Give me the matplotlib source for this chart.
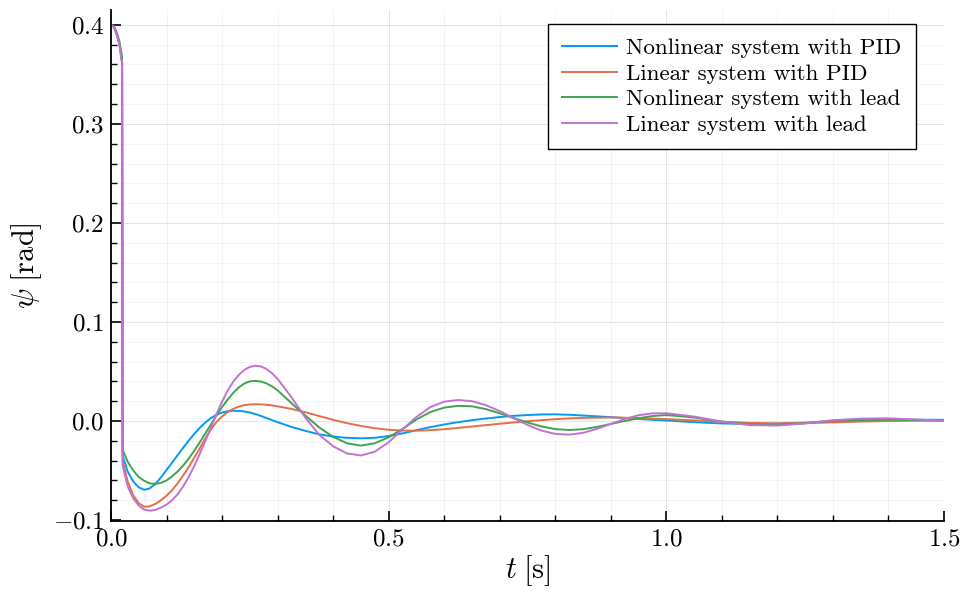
import matplotlib
matplotlib.use("Agg")
import matplotlib.pyplot as plt
from matplotlib.ticker import MultipleLocator, FuncFormatter

# Data
t = [0.0, 0.005, 0.01, 0.015, 0.02, 0.021,
     0.03, 0.04, 0.05, 0.06, 0.07, 0.08, 0.09, 0.10, 0.11, 0.12, 0.13, 0.14, 0.15,
     0.16, 0.17, 0.18, 0.19, 0.20, 0.21, 0.22, 0.23, 0.24, 0.25, 0.26, 0.27, 0.28,
     0.29, 0.30,
     0.325, 0.35, 0.375, 0.40, 0.425, 0.45, 0.475, 0.50, 0.525, 0.55, 0.575, 0.60,
     0.625, 0.65, 0.675, 0.70, 0.725, 0.75, 0.775, 0.80, 0.825, 0.85, 0.875, 0.90,
     0.925, 0.95, 0.975, 1.00,
     1.05, 1.10, 1.15, 1.20, 1.25, 1.30, 1.35, 1.40, 1.45, 1.50]

nonlin_pid = [0.4, 0.398, 0.391, 0.381, 0.362, -0.035,
              -0.051, -0.061, -0.067, -0.0695, -0.068, -0.0635, -0.057, -0.0495, -0.042,
              -0.0345, -0.027, -0.0198, -0.013, -0.0068, -0.0015, 0.003, 0.0063, 0.0085,
              0.0098, 0.0103, 0.0102, 0.0096, 0.0085, 0.007, 0.0051, 0.003, 0.0009, -0.0012,
              -0.006, -0.010, -0.0135, -0.0157, -0.017, -0.0175, -0.017, -0.0152, -0.0125,
              -0.0093, -0.0062, -0.0035, -0.0012, 0.0008, 0.0025, 0.004, 0.0052, 0.006,
              0.0066, 0.0067, 0.0063, 0.0055, 0.0047, 0.0039, 0.003, 0.002, 0.0012, 0.0005,
              -0.0012, -0.0025, -0.003, -0.0027, -0.0017, -0.0002, 0.0008, 0.0013, 0.0013,
              0.0012]

lin_pid = [0.4, 0.398, 0.391, 0.381, 0.362, -0.040,
           -0.061, -0.075, -0.083, -0.0866, -0.0862, -0.0838, -0.080, -0.0755, -0.070,
           -0.063, -0.055, -0.0465, -0.037, -0.0275, -0.0175, -0.0085, -0.001, 0.0045,
           0.009, 0.0122, 0.0145, 0.016, 0.0167, 0.0169, 0.0168, 0.0164, 0.0157, 0.0148,
           0.0122, 0.0088, 0.005, 0.0012, -0.0022, -0.005, -0.0073, -0.0089, -0.0097,
           -0.0098, -0.0093, -0.0083, -0.007, -0.0056, -0.0042, -0.0028, -0.0015, -0.0003,
           0.0008, 0.0018, 0.0026, 0.0031, 0.0034, 0.0035, 0.0033, 0.0029, 0.0024, 0.0019,
           0.0006, -0.0008, -0.0019, -0.0024, -0.0022, -0.0014, -0.0006, 0.0, 0.0003,
           0.0004]

nonlin_lead = [0.4, 0.399, 0.393, 0.384, 0.368, -0.029,
               -0.041, -0.050, -0.0565, -0.0605, -0.063, -0.0636, -0.0625, -0.060, -0.056,
               -0.051, -0.045, -0.038, -0.030, -0.0215, -0.0125, -0.0035, 0.0055, 0.014,
               0.0215, 0.0283, 0.0338, 0.0378, 0.040, 0.0405, 0.0398, 0.038, 0.035, 0.031,
               0.018, 0.0055, -0.0065, -0.016, -0.0225, -0.0249, -0.0225, -0.0165, -0.008,
               0.0015, 0.009, 0.0135, 0.0153, 0.0148, 0.012, 0.0078, 0.003, -0.0015, -0.0055,
               -0.0082, -0.0091, -0.0083, -0.006, -0.003, 0.0, 0.0028, 0.005, 0.006,
               0.0035, -0.0005, -0.0033, -0.0038, -0.0022, 0.0002, 0.0012, 0.0013, 0.0009,
               0.0004]

lin_lead = [0.4, 0.398, 0.391, 0.381, 0.362, -0.045,
            -0.066, -0.078, -0.0855, -0.0895, -0.0906, -0.0898, -0.0875, -0.0845, -0.080,
            -0.074, -0.066, -0.0565, -0.0455, -0.033, -0.020, -0.0065, 0.007, 0.0195,
            0.0305, 0.0395, 0.0465, 0.0515, 0.0546, 0.0558, 0.0551, 0.0525, 0.0482, 0.0425,
            0.024, 0.0035, -0.014, -0.0255, -0.0328, -0.0348, -0.031, -0.0215, -0.0085,
            0.004, 0.014, 0.0195, 0.0212, 0.020, 0.016, 0.010, 0.003, -0.004, -0.0097,
            -0.013, -0.0138, -0.012, -0.008, -0.003, 0.002, 0.0058, 0.0077, 0.0078,
            0.0045, -0.0008, -0.0042, -0.0046, -0.0025, 0.0008, 0.0024, 0.0027, 0.0015,
            0.0002]

labels = ["Nonlinear system with PID", "Linear system with PID",
          "Nonlinear system with lead", "Linear system with lead"]
colors = ["#009AFA", "#E36F47", "#3EA44E", "#C371D2"]

plt.rcParams['font.family'] = ['cmr10', 'DejaVu Serif']
plt.rcParams['mathtext.fontset'] = 'cm'
plt.rcParams['axes.formatter.use_mathtext'] = True

fig = plt.figure(figsize=(9.6, 5.97), dpi=100)
ax = fig.add_axes([0.1156, 0.1273, 0.8677, 0.8559])

for y, lab, col in zip([nonlin_pid, lin_pid, nonlin_lead, lin_lead], labels, colors):
    ax.plot(t, y, color=col, lw=1.4, label=lab)

ax.set_xlim(0, 1.5)
ax.set_ylim(-0.101, 0.415)

ax.xaxis.set_major_locator(MultipleLocator(0.5))
ax.xaxis.set_minor_locator(MultipleLocator(0.1))
ax.yaxis.set_major_locator(MultipleLocator(0.1))
ax.yaxis.set_minor_locator(MultipleLocator(0.02))
fmt = FuncFormatter(lambda v, p: "$%.1f$" % (0.0 if abs(v) < 1e-9 else v))
ax.xaxis.set_major_formatter(fmt)
ax.yaxis.set_major_formatter(fmt)

ax.grid(True, which='major', color='black', alpha=0.1, lw=0.8)
ax.grid(True, which='minor', color='black', alpha=0.05, lw=0.6)

ax.spines['top'].set_visible(False)
ax.spines['right'].set_visible(False)
ax.spines['left'].set_linewidth(1.3)
ax.spines['bottom'].set_linewidth(1.3)
ax.tick_params(which='major', direction='in', length=7, width=1.2, labelsize=18, pad=5)
ax.tick_params(which='minor', direction='in', length=4, width=1.0)

ax.set_xlabel(r"$t\;[\mathrm{s}]$", fontsize=22, labelpad=2)
ax.set_ylabel(r"$\psi\;[\mathrm{rad}]$", fontsize=22, labelpad=6)

leg = ax.legend(loc='upper right', bbox_to_anchor=(916 / 960, 1 - 24 / 597),
                bbox_transform=fig.transFigure, borderaxespad=0.0,
                fontsize=16.6, frameon=True, fancybox=False, edgecolor='black',
                framealpha=1.0, handlelength=2.4, handletextpad=0.4,
                borderpad=0.62, labelspacing=0.23)
leg.get_frame().set_linewidth(1.0)

fig.savefig("out.png", dpi=100)
